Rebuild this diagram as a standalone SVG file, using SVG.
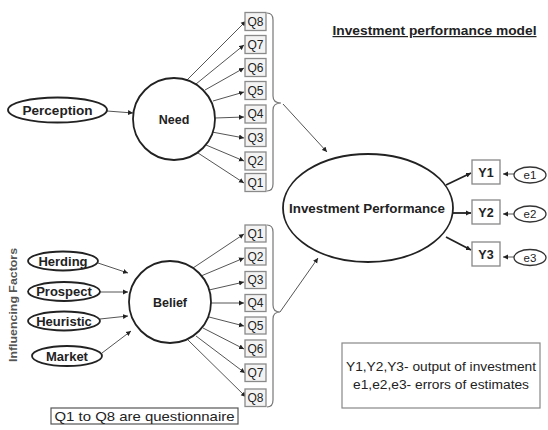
<svg xmlns="http://www.w3.org/2000/svg" width="548" height="430" viewBox="0 0 548 430">
<defs>
<marker id="ah" markerUnits="userSpaceOnUse" markerWidth="6" markerHeight="6" refX="5" refY="3" orient="auto"><path d="M0,0.5 L5,3 L0,5.5 Z" fill="#222"/></marker>
<style>
text{font-family:"Liberation Sans",Arial,sans-serif;fill:#222}
.b{font-weight:bold}
.lat{fill:#fff;stroke:#222;stroke-width:1.8}
.q rect{fill:#f3f3f3;stroke:#8a8a8a;stroke-width:1.3}
.q text{font-size:12px;text-anchor:middle}
.c line{stroke:#555;stroke-width:1;marker-end:url(#ah)}
.c .thick{stroke:#222;stroke-width:1.8}
.br{fill:none;stroke:#777;stroke-width:1.2}
.y rect{fill:#fff;stroke:#888;stroke-width:1.3}
.y text{font-size:12.5px;font-weight:bold;text-anchor:middle}
.e ellipse{fill:#fff;stroke:#333;stroke-width:1.3}
.e text{font-size:11.5px;text-anchor:middle}
.f ellipse{fill:#fff;stroke:#222;stroke-width:1.8}
.f text{font-size:13px;font-weight:bold;text-anchor:middle}
</style>
</defs>
<rect width="548" height="430" fill="#fff"/>

<text class="b" x="434.5" y="35" font-size="12" text-anchor="middle" text-decoration="underline" textLength="204" lengthAdjust="spacingAndGlyphs">Investment performance model</text>

<g id="connectors" class="c">
<line x1="107" y1="111" x2="133" y2="113"/>
<line x1="187" y1="80" x2="246" y2="21"/>
<line x1="196" y1="84" x2="244" y2="45"/>
<line x1="205" y1="90" x2="244" y2="68"/>
<line x1="213" y1="101" x2="244" y2="92"/>
<line x1="215" y1="118" x2="244" y2="117"/>
<line x1="212" y1="132" x2="244" y2="138"/>
<line x1="206" y1="145" x2="244" y2="161"/>
<line x1="198" y1="153" x2="244" y2="183"/>
<line x1="98" y1="263" x2="128" y2="273"/>
<line x1="100" y1="292" x2="128" y2="292"/>
<line x1="100" y1="319" x2="128" y2="316"/>
<line x1="102" y1="353" x2="131" y2="331"/>
<line x1="193" y1="268" x2="244" y2="234"/>
<line x1="201" y1="276" x2="244" y2="258"/>
<line x1="209" y1="290" x2="244" y2="282"/>
<line x1="211" y1="303" x2="244" y2="303"/>
<line x1="209" y1="317" x2="244" y2="326"/>
<line x1="203" y1="328" x2="244" y2="349"/>
<line x1="196" y1="336" x2="245" y2="373"/>
<line x1="188" y1="340" x2="246" y2="397"/>
<line x1="283" y1="104" x2="327" y2="152"/>
<line x1="280" y1="312" x2="318" y2="258"/>
<line class="thick" x1="446" y1="185" x2="471" y2="173"/>
<line class="thick" x1="453" y1="213" x2="471" y2="213"/>
<line class="thick" x1="446" y1="237" x2="471" y2="250"/>
<line x1="514" y1="174" x2="503" y2="174"/>
<line x1="514" y1="214" x2="503" y2="214"/>
<line x1="514" y1="257" x2="503" y2="257"/>
</g>

<g id="brackets">
<path class="br" d="M267,13 Q273,13 273,20 L273,96 Q273,103 281,103 Q273,103 273,110 L273,184 Q273,191 267,191"/>
<path class="br" d="M267,225 Q273,225 273,232 L273,305 Q273,312 280,312 Q273,312 273,319 L273,400 Q273,407 267,407"/>
</g>

<g id="perception" class="f"><ellipse cx="57.5" cy="110" rx="49.5" ry="12.5"/><text x="57.5" y="114.5" textLength="70" lengthAdjust="spacingAndGlyphs">Perception</text></g>
<g id="need"><circle class="lat" cx="174" cy="119" r="41"/><text class="b" x="174" y="123.5" font-size="12.5" text-anchor="middle">Need</text></g>
<g id="belief"><circle class="lat" cx="170" cy="302" r="41"/><text class="b" x="170" y="306.5" font-size="12.5" text-anchor="middle">Belief</text></g>

<g id="herding" class="f"><ellipse cx="63" cy="261" rx="35" ry="9.5"/><text x="63" y="265.5">Herding</text></g>
<g id="prospect" class="f"><ellipse cx="64" cy="291.5" rx="36" ry="9.5"/><text x="64" y="296">Prospect</text></g>
<g id="heuristic" class="f"><ellipse cx="64" cy="321" rx="36" ry="9.5"/><text x="64" y="325.5">Heuristic</text></g>
<g id="market" class="f"><ellipse cx="67" cy="356" rx="35" ry="10"/><text x="67" y="360.5">Market</text></g>

<text id="influencing" class="b" font-size="11" style="fill:#555" text-anchor="middle" transform="translate(17,305) rotate(-90)" textLength="114" lengthAdjust="spacingAndGlyphs">Influencing Factors</text>

<g id="need-q" class="q">
<g id="nq8"><rect x="245" y="12.5" width="21" height="18"/><text x="255.5" y="25.5">Q8</text></g>
<g id="nq7"><rect x="245" y="35.5" width="21" height="18"/><text x="255.5" y="48.5">Q7</text></g>
<g id="nq6"><rect x="245" y="58.5" width="21" height="18"/><text x="255.5" y="71.5">Q6</text></g>
<g id="nq5"><rect x="245" y="81.5" width="21" height="18"/><text x="255.5" y="94.5">Q5</text></g>
<g id="nq4"><rect x="245" y="105" width="21" height="18"/><text x="255.5" y="118">Q4</text></g>
<g id="nq3"><rect x="245" y="128.5" width="21" height="18"/><text x="255.5" y="141.5">Q3</text></g>
<g id="nq2"><rect x="245" y="152" width="21" height="18"/><text x="255.5" y="165">Q2</text></g>
<g id="nq1"><rect x="245" y="173.5" width="21" height="18"/><text x="255.5" y="186.5">Q1</text></g>
</g>

<g id="belief-q" class="q">
<g id="bq1"><rect x="245" y="225" width="21" height="17"/><text x="255.5" y="237.5">Q1</text></g>
<g id="bq2"><rect x="245" y="248" width="21" height="17"/><text x="255.5" y="260.5">Q2</text></g>
<g id="bq3"><rect x="245" y="271.5" width="21" height="17"/><text x="255.5" y="284">Q3</text></g>
<g id="bq4"><rect x="245" y="294.5" width="21" height="17"/><text x="255.5" y="307">Q4</text></g>
<g id="bq5"><rect x="245" y="317" width="21" height="17"/><text x="255.5" y="329.5">Q5</text></g>
<g id="bq6"><rect x="245" y="340" width="21" height="17"/><text x="255.5" y="352.5">Q6</text></g>
<g id="bq7"><rect x="245" y="364" width="21" height="17.5"/><text x="255.5" y="376.5">Q7</text></g>
<g id="bq8"><rect x="245" y="389" width="21" height="17.5"/><text x="255.5" y="401.5">Q8</text></g>
</g>

<g id="investment-performance"><ellipse class="lat" cx="368" cy="208" rx="85" ry="54"/><text class="b" x="367" y="212.5" font-size="13" text-anchor="middle" textLength="156" lengthAdjust="spacingAndGlyphs">Investment Performance</text></g>

<g id="y1" class="y"><rect x="472" y="160" width="28" height="24"/><text x="486" y="176.5">Y1</text></g>
<g id="y2" class="y"><rect x="472" y="200" width="28" height="24"/><text x="486" y="216.5">Y2</text></g>
<g id="y3" class="y"><rect x="472" y="242" width="28" height="24"/><text x="486" y="258.5">Y3</text></g>

<g id="e1" class="e"><ellipse cx="530" cy="175" rx="16" ry="8"/><text x="530" y="179">e1</text></g>
<g id="e2" class="e"><ellipse cx="530" cy="214" rx="16" ry="8"/><text x="530" y="218">e2</text></g>
<g id="e3" class="e"><ellipse cx="530" cy="257.5" rx="16" ry="8"/><text x="530" y="261.5">e3</text></g>

<g id="legend"><rect x="342" y="343" width="198" height="65" fill="#fff" stroke="#888" stroke-width="1.2"/>
<text x="441" y="371" font-size="12.5" text-anchor="middle" textLength="190" lengthAdjust="spacingAndGlyphs">Y1,Y2,Y3- output of investment</text>
<text x="441" y="389" font-size="12.5" text-anchor="middle" textLength="176" lengthAdjust="spacingAndGlyphs">e1,e2,e3- errors of estimates</text></g>

<g id="note"><rect x="51" y="408" width="187" height="16" fill="#fff" stroke="#555" stroke-width="1.2"/>
<text x="144.5" y="420.5" font-size="13" text-anchor="middle" textLength="180" lengthAdjust="spacingAndGlyphs">Q1 to Q8 are questionnaire</text></g>
</svg>
